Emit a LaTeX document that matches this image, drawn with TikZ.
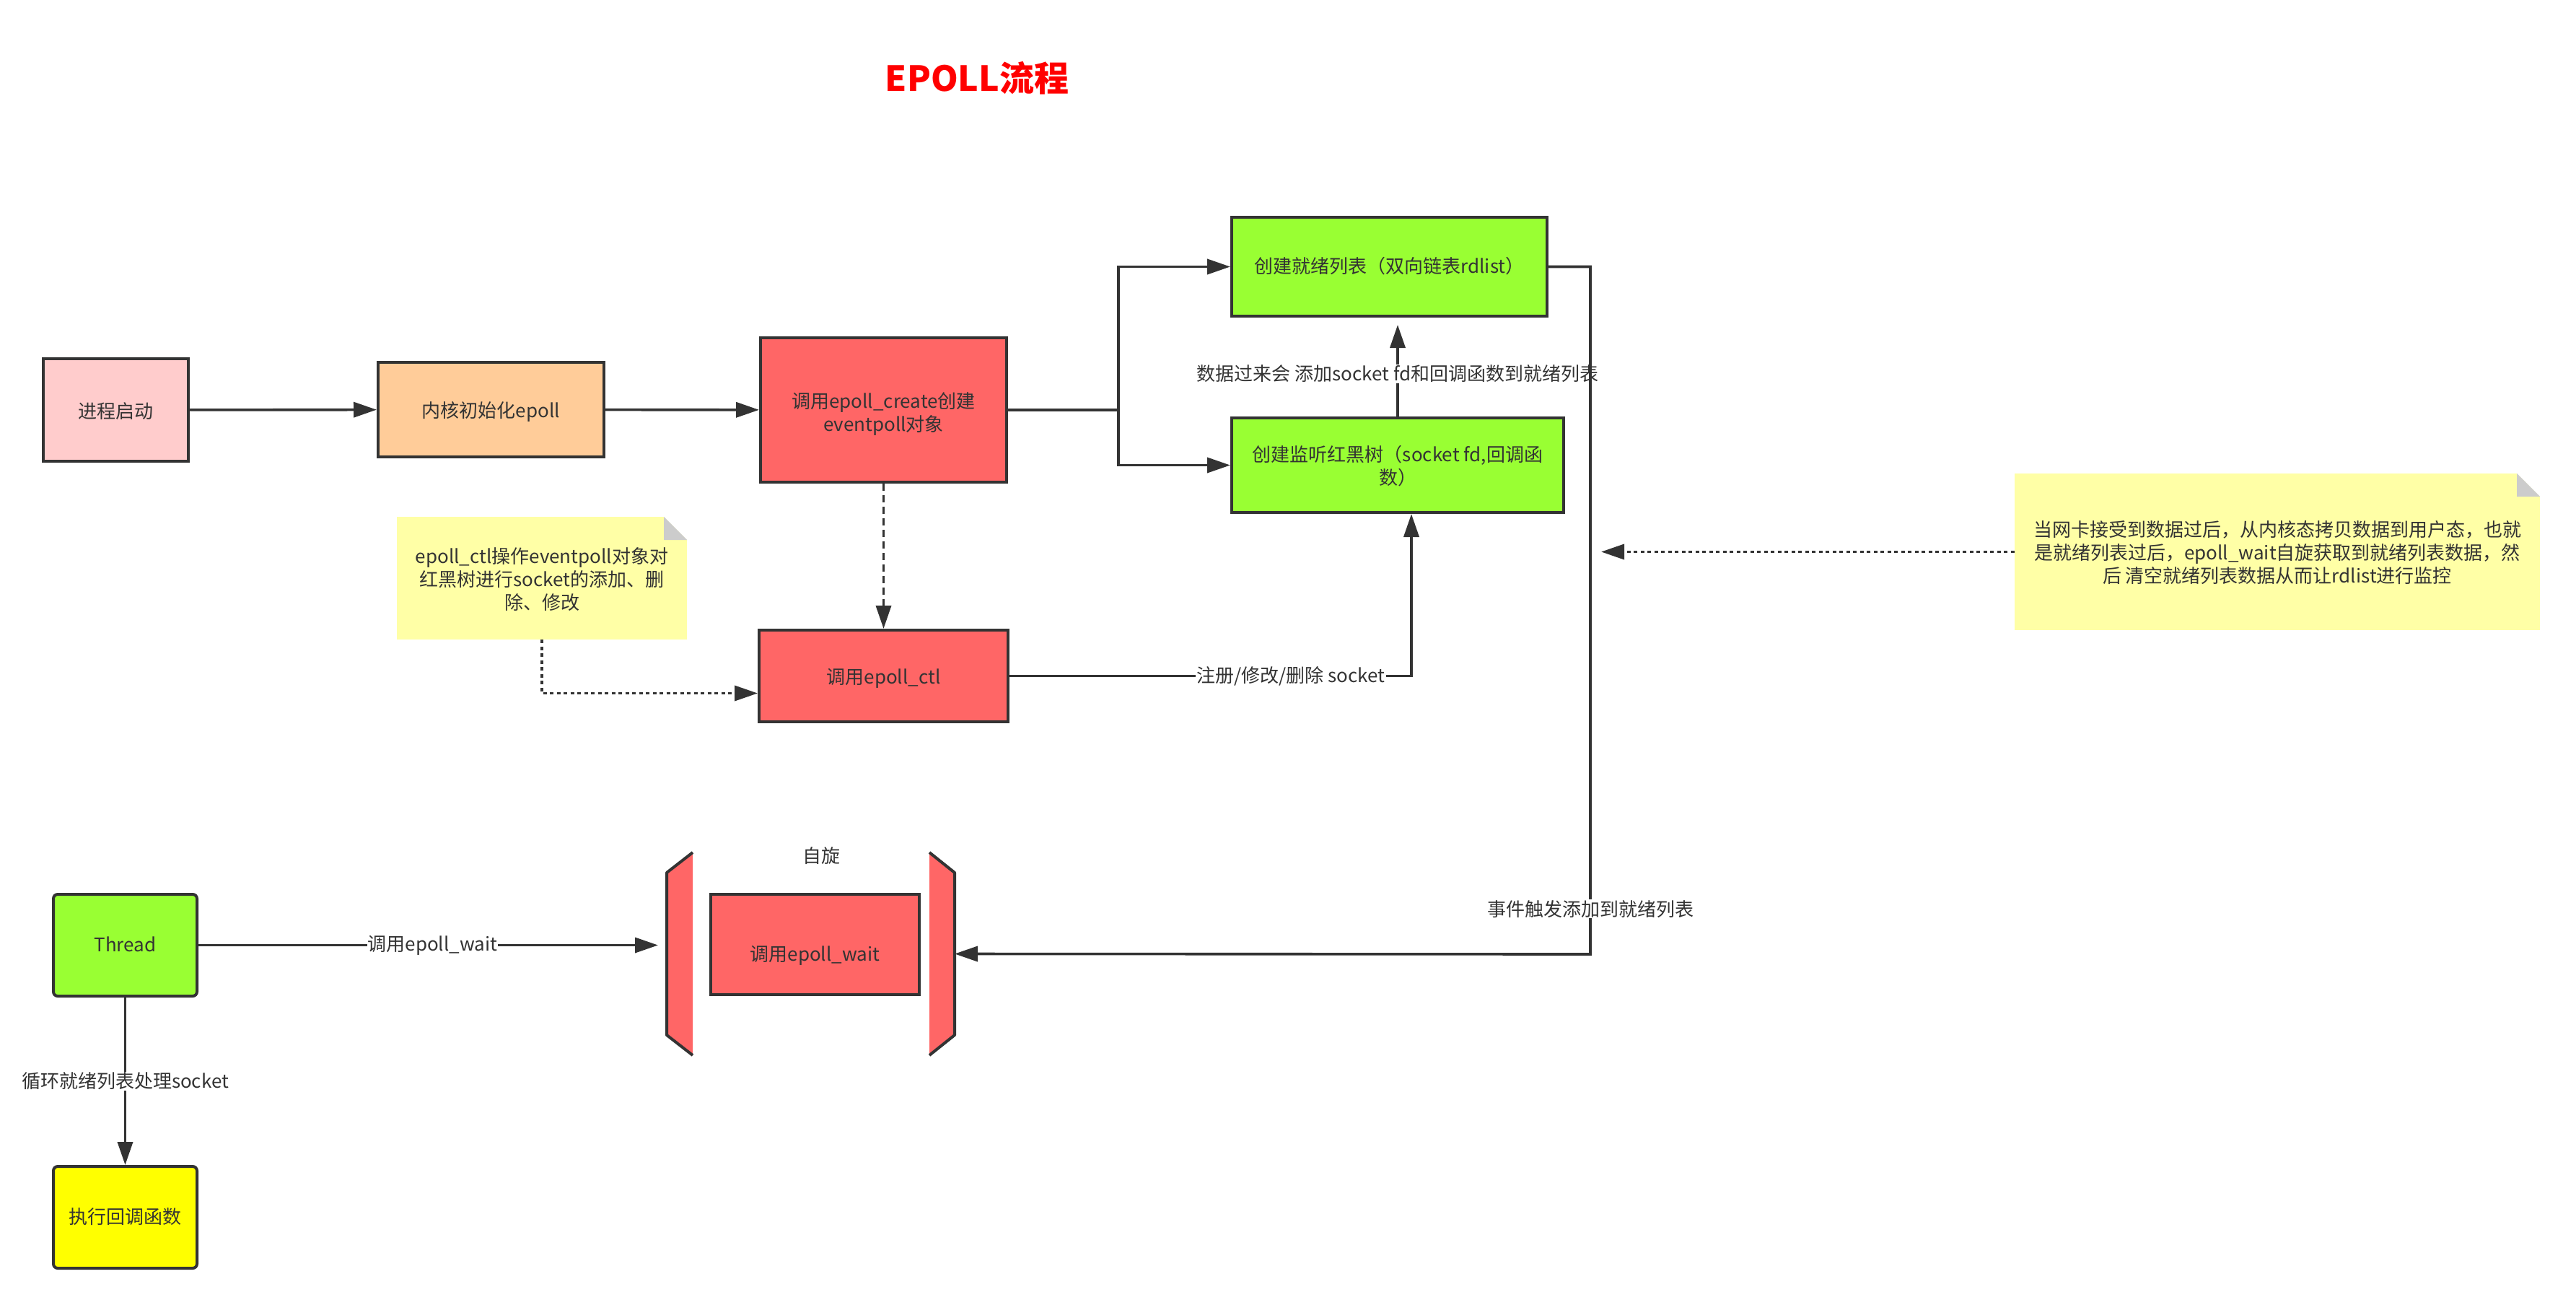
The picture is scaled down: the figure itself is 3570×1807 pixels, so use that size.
\documentclass[tikz,border=0pt]{standalone}
\usepackage{fontspec}
\setmainfont{Noto Sans CJK SC}
\usepackage{tikz}
\usetikzlibrary{arrows.meta,positioning,calc}
\definecolor{inkgray}{HTML}{333333}
\definecolor{procpink}{HTML}{FFCCCC}
\definecolor{kernorange}{HTML}{FFCC99}
\definecolor{callred}{HTML}{FF6666}
\definecolor{readygreen}{HTML}{99FF33}
\definecolor{cbyellow}{HTML}{FFFF00}
\definecolor{memoyellow}{HTML}{FFFFA6}
\definecolor{foldgray}{HTML}{CCCCCC}
\definecolor{titlered}{HTML}{FF0000}
% box text sits a little below the middle
\newcommand{\dn}[2][5pt]{\raisebox{-#1}[\height][\depth]{\begin{tabular}{@{}c@{}}#2\end{tabular}}}
\tikzset{
  txt/.style={font=\fontsize{26}{32}\selectfont, text=inkgray},
  box/.style={txt, draw=inkgray, line width=4pt, inner sep=4pt},
  pbox/.style={box, fill=procpink},
  kbox/.style={box, fill=kernorange},
  cbox/.style={box, fill=callred},
  gbox/.style={box, fill=readygreen},
  tbox/.style={box, fill=readygreen, rounded corners=6pt},
  ybox/.style={box, fill=cbyellow, rounded corners=6pt},
  % sticky note with folded corner
  memo/.style={txt, fill=memoyellow, inner sep=0pt,
    path picture={
      \fill[white] ([xshift=-32pt]path picture bounding box.north east)
        -- (path picture bounding box.north east)
        -- ([yshift=-32pt]path picture bounding box.north east) -- cycle;
      \fill[foldgray] ([xshift=-32pt]path picture bounding box.north east)
        -- ([xshift=-32pt,yshift=-32pt]path picture bounding box.north east)
        -- ([yshift=-32pt]path picture bounding box.north east) -- cycle;
    }},
  flow/.style={-{Triangle[length=32pt,width=21pt]}, line width=3.6pt, draw=inkgray},
  dashflow/.style={flow, dash pattern=on 10pt off 6pt},
  dotflow/.style={flow, dash pattern=on 5pt off 4.5pt},
  lbl/.style={txt, fill=white, inner sep=1pt},
  frame/.style={inner sep=0pt, outer sep=0pt},
  brkfill/.style={fill=callred},
  brkline/.style={draw=inkgray, line width=4pt, line join=round},
  caphead/.style={font=\fontsize{48}{56}\selectfont\bfseries, text=titlered},
}

\begin{document}
\begin{tikzpicture}[x=1pt,y=-1pt]
  \useasboundingbox (0,0) rectangle (3570,1807);
  \node[caphead] (title) at (1354,108) {EPOLL流程};

  \node[pbox, minimum width=201pt, minimum height=142pt] (S) at (160.5,568) {\dn{进程启动}};
  \node[kbox, minimum width=313pt, minimum height=131pt] (K) at (680.5,567.5) {\dn{内核初始化epoll}};
  \node[cbox, minimum width=341pt, minimum height=200pt] (E) at (1224.5,568)
      {\dn[7pt]{调用epoll\_create创建\\eventpoll对象}};
  \node[gbox, minimum width=437pt, minimum height=137pt] (L) at (1925.5,369.5)
      {\dn[3pt]{创建就绪列表（双向链表rdlist）}};
  \node[gbox, minimum width=460pt, minimum height=131pt] (R) at (1937,644.5)
      {\dn{创建监听红黑树（socket fd,回调函\\数）}};
  \node[cbox, minimum width=345pt, minimum height=127pt] (C) at (1224.5,936.5) {\dn{调用epoll\_ctl}};
  \node[memo, minimum width=402pt, minimum height=170pt] (N) at (751,801)
      {\dn{epoll\_ctl操作eventpoll对象对\\红黑树进行socket的添加、删\\除、修改}};
  \node[memo, minimum width=728pt, minimum height=217pt] (M) at (3156,764.5)
      {\dn{当网卡接受到数据过后，从内核态拷贝数据到用户态，也就\\是就绪列表过后，epoll\_wait自旋获取到就绪列表数据，然\\后 清空就绪列表数据从而让rdlist进行监控}};

  \node[tbox, minimum width=199pt, minimum height=141pt] (T) at (173.5,1309.5) {\dn[3pt]{Thread}};
  \node[ybox, minimum width=199pt, minimum height=141pt] (B) at (173.5,1686.5) {\dn[3pt]{执行回调函数}};

  % spin block: two brackets round the wait call
  \node[frame, minimum width=399pt, minimum height=281pt] (Z) at (1123.5,1321.5) {};
  \fill[brkfill] ([xshift=36pt]Z.north west) -- ([yshift=-28pt]Z.north west)
      -- ([yshift=28pt]Z.south west) -- ([xshift=36pt]Z.south west) -- cycle;
  \draw[brkline] ([xshift=36pt]Z.north west) -- ([yshift=-28pt]Z.north west)
      -- ([yshift=28pt]Z.south west) -- ([xshift=36pt]Z.south west);
  \fill[brkfill] ([xshift=-35pt]Z.north east) -- ([yshift=-28pt]Z.north east)
      -- ([yshift=28pt]Z.south east) -- ([xshift=-35pt]Z.south east) -- cycle;
  \draw[brkline] ([xshift=-35pt]Z.north east) -- ([yshift=-28pt]Z.north east)
      -- ([yshift=28pt]Z.south east) -- ([xshift=-35pt]Z.south east);
  \node[cbox, minimum width=289pt, minimum height=139pt] (W) at (1129.5,1308.5)
      {\dn[17pt]{调用epoll\_wait\hspace{12pt}}};
  \node[txt] (spin) at (1138,1186) {自旋};

  \coordinate (fork) at (1550,568);
  \coordinate (rail) at (2204,1322);
  \coordinate (hit) at (2219,764.5);

  \draw[flow] (S) -- (K);
  \draw[flow] (K) -- (E);
  \draw[flow] (E.east) -- (fork) |- (L.west);
  \draw[flow] (fork) |- (R.west);
  \draw[flow, shorten >=10pt] (R.north) -- node[lbl, pos=0.43] {数据过来会 添加socket fd和回调函数到就绪列表} (R.north |- L.south);
  \draw[dashflow] (E) -- (C);
  \draw[dotflow] (N.south) |- ([yshift=-24pt]C.west);
  \draw[flow] (C.east) -| node[lbl, pos=0.35] {注册/修改/删除 socket} ([xshift=19pt]R.south);
  \draw[flow] (L.east) -| node[lbl, pos=0.967] {事件触发添加到就绪列表} (rail) -- (Z.east);
  \draw[dotflow] (M.west) -- (hit);
  \draw[flow, shorten >=12pt] (T.east) -- node[lbl] {调用epoll\_wait} (T.east -| Z.west);
  \draw[flow] (T) -- node[lbl] {循环就绪列表处理socket} (B);
\end{tikzpicture}
\end{document}
